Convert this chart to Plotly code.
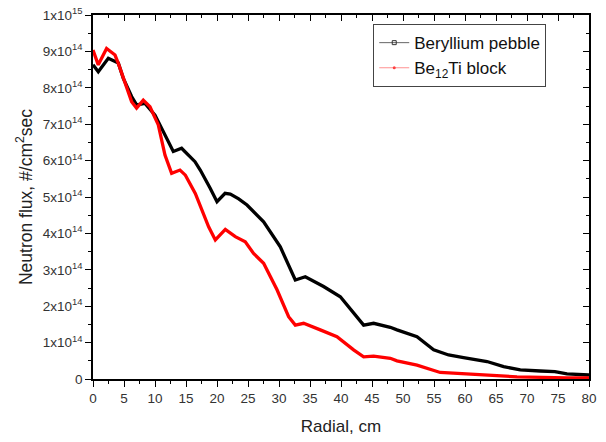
import plotly.graph_objects as go

radial_pebble = [0, 0.85, 2.47, 4.08, 4.89, 6.23, 7.03, 8.39, 10.0, 11.61, 12.95, 14.29, 16.45,
                 17.3, 18.06, 18.9, 20.0, 21.3, 22.15, 23.5, 24.84, 25.9, 27.52, 30.21, 31.82,
                 32.63, 34.24, 37.19, 39.89, 42.03, 43.65, 45.26, 47.95, 49.03, 52.26, 54.94,
                 57.35, 59.77, 63.55, 66.23, 68.92, 72.15, 74.5, 76.45, 80]
flux_pebble = [8.63, 8.44, 8.81, 8.68, 8.26, 7.76, 7.53, 7.57, 7.25, 6.70, 6.25, 6.34, 5.97,
               5.74, 5.51, 5.24, 4.87, 5.10, 5.08, 4.95, 4.78, 4.60, 4.32, 3.63, 2.99,
               2.72, 2.81, 2.54, 2.26, 1.80, 1.48, 1.53, 1.42, 1.35, 1.16, 0.80,
               0.66, 0.59, 0.48, 0.34, 0.25, 0.22, 0.20, 0.14, 0.11]

radial_block = [0, 0.85, 2.19, 3.55, 4.08, 5.16, 6.23, 7.03, 8.11, 9.19, 10.53, 11.61, 12.68,
                14.03, 14.9, 16.5, 17.6, 18.65, 19.73, 21.34, 22.95, 24.56, 25.9, 27.52, 29.68,
                31.55, 32.63, 33.97, 36.66, 39.35, 42.03, 43.65, 45.26, 47.95, 49.03, 52.26,
                56.0, 61.39, 68.39, 76.45, 80]
flux_block = [9.04, 8.63, 9.08, 8.90, 8.67, 8.17, 7.62, 7.44, 7.66, 7.48, 6.98, 6.15, 5.65,
              5.74, 5.60, 5.10, 4.64, 4.18, 3.82, 4.11, 3.91, 3.77, 3.45, 3.18, 2.45,
              1.71, 1.48, 1.53, 1.35, 1.16, 0.80, 0.61, 0.63, 0.57, 0.50, 0.38,
              0.18, 0.13, 0.06, 0.03, 0.03]

scale = 1e14
y_tickvals = [0, 1, 2, 3, 4, 5, 6, 7, 8, 9, 10]
y_ticktext = ["0"] + [f"{i}x10<sup>14</sup>" for i in range(1, 10)] + ["1x10<sup>15</sup>"]
x_tickvals = list(range(0, 81, 5))

FONT = "Liberation Sans, Arial, sans-serif"

fig = go.Figure()
fig.add_trace(go.Scatter(x=radial_pebble, y=[v * scale for v in flux_pebble], mode="lines",
                         line=dict(color="black", width=3.3), showlegend=False))
fig.add_trace(go.Scatter(x=radial_block, y=[v * scale for v in flux_block], mode="lines",
                         line=dict(color="#ff0000", width=3.3), showlegend=False))
# legend entries
fig.add_trace(go.Scatter(x=[None], y=[None], mode="lines+markers", name="Beryllium pebble",
                         line=dict(color="#666666", width=1),
                         marker=dict(symbol="square-open", size=4, color="#333333")))
fig.add_trace(go.Scatter(x=[None], y=[None], mode="lines+markers", name="Be<sub>12</sub>Ti block",
                         line=dict(color="#ff9090", width=1),
                         marker=dict(symbol="circle", size=3, color="#ff4040")))
# dummy trace for mirrored inside-tick axes
fig.add_trace(go.Scatter(x=[0], y=[0], xaxis="x2", yaxis="y2", mode="markers",
                         marker=dict(opacity=0), showlegend=False, hoverinfo="skip"))

axis_common = dict(showgrid=False, zeroline=False, linecolor="black", linewidth=1.5,
                   tickcolor="black", tickwidth=1.3, automargin=False,
                   tickfont=dict(family=FONT, size=13.5, color="#333333"))

fig.update_layout(
    width=606, height=442,
    margin=dict(l=93, r=17, t=15, b=63),
    paper_bgcolor="white", plot_bgcolor="white",
    font=dict(family=FONT, color="#222222"),
    xaxis=dict(range=[0, 80], tickvals=x_tickvals, ticks="outside", ticklen=6,
               minor=dict(ticks="outside", ticklen=3, dtick=2.5, tickcolor="black", tickwidth=1.3),
               title=dict(text="Radial, cm", font=dict(family=FONT, size=17, color="#222222"), standoff=15),
               **axis_common),
    yaxis=dict(range=[0, 1e15], tickvals=[v * scale for v in y_tickvals], ticktext=y_ticktext,
               ticks="outside", ticklen=6,
               minor=dict(ticks="outside", ticklen=3, dtick=0.5e14, tickcolor="black", tickwidth=1.3),
               title=dict(text="Neutron flux, #/cm<sup>2</sup>sec",
                          font=dict(family=FONT, size=17.5, color="#222222"), standoff=6),
               **axis_common),
    xaxis2=dict(range=[0, 80], overlaying="x", side="top", tickvals=x_tickvals, ticks="inside",
                ticklen=6, showticklabels=False,
                minor=dict(ticks="inside", ticklen=3, dtick=2.5, tickcolor="black", tickwidth=1.3),
                **axis_common),
    yaxis2=dict(range=[0, 1e15], overlaying="y", side="right", tickvals=[v * scale for v in y_tickvals],
                ticks="inside", ticklen=6, showticklabels=False,
                minor=dict(ticks="inside", ticklen=3, dtick=0.5e14, tickcolor="black", tickwidth=1.3),
                **axis_common),
    legend=dict(x=0.565, y=0.975, xanchor="left", yanchor="top",
                bgcolor="white", bordercolor="#444444", borderwidth=1,
                font=dict(family=FONT, size=17, color="#111111"),
                tracegroupgap=0, itemwidth=30),
)

fig.write_html("out.html")
